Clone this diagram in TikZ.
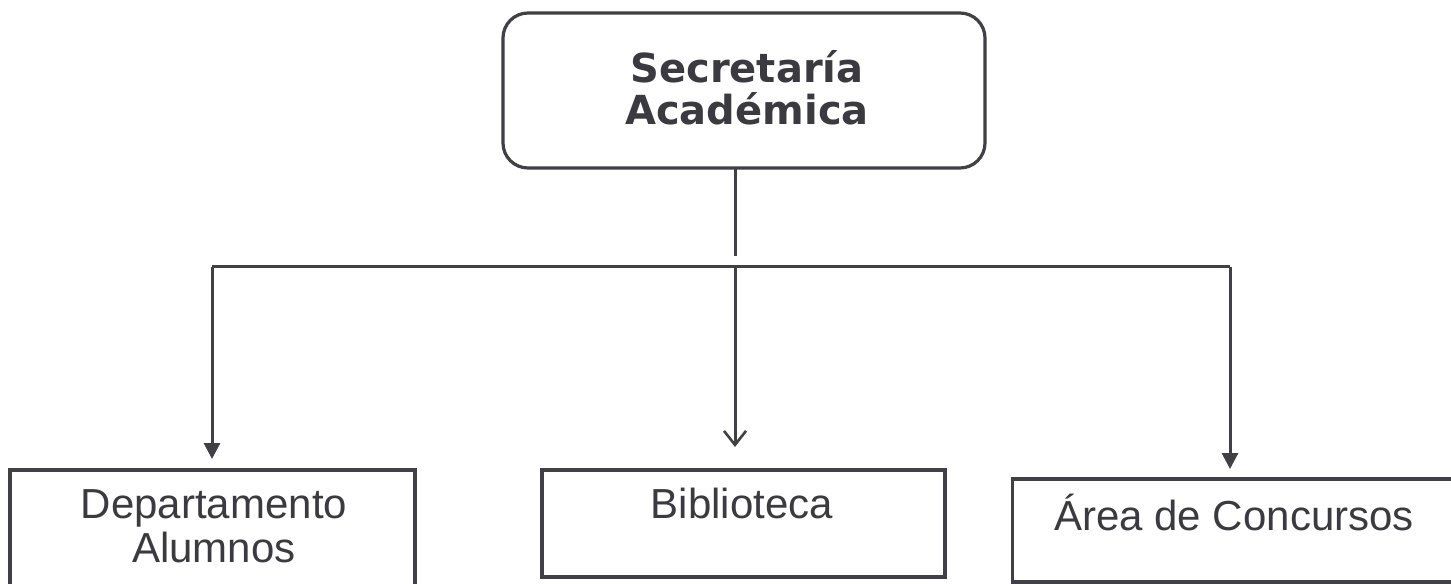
\documentclass[tikz,border=0pt]{standalone}
\usepackage{fontspec}
\setmainfont{Liberation Sans}
\newfontfamily\headfont{DejaVu Sans}
\usetikzlibrary{arrows.meta}
\definecolor{ink}{HTML}{404046}
\definecolor{txt}{HTML}{3A3A40}
\tikzset{
  boxline/.style={draw=ink, line width=1.6bp, fill=none},
  headbox/.style={boxline, rounded corners=12.5bp},
  conn/.style={draw=ink, line width=1.5bp},
  fillarrow/.style={conn, -{Triangle[length=8bp,width=8bp]}},
  openarrow/.style={conn, -{Straight Barb[length=7bp,width=11bp,line width=1.3bp]}},
  headtext/.style={text=txt, font=\headfont\bfseries\fontsize{20bp}{21bp}\selectfont, align=center, inner sep=0pt},
  lbltext/.style={text=txt, font=\fontsize{21bp}{22bp}\selectfont, align=center, inner sep=0pt},
}
\begin{document}
\begin{tikzpicture}[x=0.5bp, y=-0.5bp]
\useasboundingbox[fill=white] (0,0) rectangle (1451,584);
% boxes
\path[headbox] (503,13) rectangle (985,168);
\node[inner sep=0pt, minimum width=241bp, minimum height=77.5bp] (top) at (744,90.5) {};
\node[headtext, anchor=base] (toptext) at (747,125) {Secretaría\\Académica};
\node[draw=ink, line width=1.6bp, inner sep=0pt, minimum width=202.5bp, minimum height=75bp] (dep) at (212.5,545) {};
\node[draw=ink, line width=1.6bp, inner sep=0pt, minimum width=201.5bp, minimum height=53.5bp] (bib) at (743.5,523.5) {};
\node[draw=ink, line width=1.6bp, inner sep=0pt, minimum width=231bp, minimum height=51.5bp] (are) at (1243.5,530.5) {};
\node[lbltext, anchor=base] (deptext) at (214,562) {Departamento\\Alumnos};
\node[lbltext, anchor=base] (bibtext) at (742,518) {Biblioteca};
\node[lbltext, anchor=base] (aretext) at (1234,530) {Área de Concursos};
% connector points
\coordinate (stemend) at (735,256);
\coordinate (busl) at (212,267);
\coordinate (busm) at (735,267);
\coordinate (busr) at (1230,267);
\coordinate (tipl) at (212,459);
\coordinate (tipm) at (735,447);
\coordinate (tipr) at (1230,469);
\draw[conn] (top.south -| stemend) -- (stemend);
\draw[conn] (busl) -- (busr);
\draw[fillarrow] (busl) -- (tipl);
\draw[openarrow] (busm) -- (tipm);
\draw[fillarrow] (busr) -- (tipr);
\end{tikzpicture}
\end{document}
